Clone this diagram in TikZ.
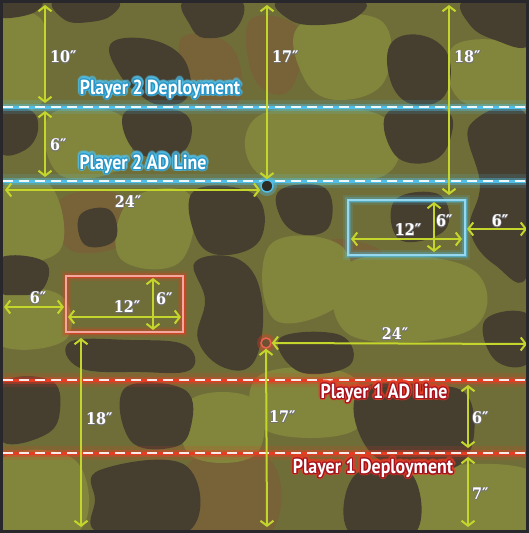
\documentclass[tikz,border=0pt]{standalone}
\usepackage{fontspec}
\usepackage{contour}
\usetikzlibrary{arrows.meta}
\newfontfamily\lblfont{PT Sans}[FakeStretch=0.88]
\newfontfamily\dimfont{DejaVu Serif Condensed}
\definecolor{basec}{RGB}{112,110,56}
\definecolor{greenc}{RGB}{130,134,60}
\definecolor{darkc}{RGB}{70,62,47}
\definecolor{brownc}{RGB}{120,98,56}
\definecolor{arrowc}{RGB}{196,214,44}
\definecolor{p2glow}{RGB}{80,190,230}
\definecolor{p2edge}{RGB}{40,150,200}
\definecolor{p1glow}{RGB}{230,60,35}
\definecolor{p1edge}{RGB}{165,20,30}
\definecolor{framec}{RGB}{40,40,44}
\tikzset{
  dimarr/.style={draw=arrowc, line width=2pt,
    {Straight Barb[length=5pt,width=13pt]}-{Straight Barb[length=5pt,width=13pt]}},
  dimlbl/.style={font=\dimfont\bfseries\fontsize{16}{16}\selectfont, text=white, inner sep=0pt},
  plbl/.style={font=\lblfont\bfseries\fontsize{20.3}{20}\selectfont, text=white, inner sep=0pt},
  blob/.style={smooth cycle, tension=0.7},
}
\newcommand{\dimtxt}[1]{\contourlength{0.5pt}\contour{black!55}{#1}}
\newcommand{\camo}[2]{\fill[#1] plot[blob] coordinates {#2};}
\begin{document}
\begin{tikzpicture}[x=1pt,y=-1pt]
\useasboundingbox (0,0) rectangle (529,533);
% ---------- terrain ----------
\fill[basec] (0,0) rectangle (529,533);
\begin{scope}
\clip (0,0) rectangle (529,533);
\camo{brownc}{(180,40)(230,45)(240,100)(200,105)}
\camo{brownc}{(250,20)(300,30)(290,90)(255,80)}
\camo{brownc}{(190,462)(270,460)(270,533)(190,533)}
\camo{brownc}{(330,240)(380,250)(370,275)(335,270)}
\camo{brownc}{(60,200)(120,195)(130,240)(70,250)}
\camo{greenc}{(0,20)(40,18)(45,60)(40,105)(0,105)}
\camo{greenc}{(300,25)(380,20)(385,80)(340,100)(305,80)}
\camo{greenc}{(455,45)(529,50)(529,105)(460,100)}
\camo{greenc}{(50,115)(120,115)(125,165)(60,175)}
\camo{greenc}{(260,115)(380,115)(385,175)(265,178)}
\camo{greenc}{(0,295)(60,295)(65,340)(0,345)}
\camo{greenc}{(260,375)(350,375)(355,430)(265,430)}
\camo{greenc}{(0,460)(75,460)(80,530)(0,530)}
\camo{greenc}{(410,475)(529,470)(529,530)(415,530)}
\camo{greenc}{(190,400)(255,400)(255,455)(190,455)}
\camo{greenc}{(350,262)(470,268)(470,330)(350,335)}
\camo{greenc}{(130,200)(190,195)(180,262)(120,258)}
\camo{greenc}{(0,190)(50,185)(60,250)(0,255)}
\camo{greenc}{(270,245)(340,245)(345,300)(275,320)}
\camo{darkc}{(0,0)(40,0)(35,12)(10,18)(0,15)}
\camo{darkc}{(55,0)(115,0)(112,15)(90,22)(65,20)}
\camo{darkc}{(110,45)(140,38)(175,50)(190,75)(185,100)(160,105)(140,95)(120,75)}
\camo{darkc}{(185,0)(240,0)(235,30)(205,38)(190,25)}
\camo{darkc}{(125,112)(165,108)(190,120)(185,150)(155,158)(130,145)}
\camo{darkc}{(0,112)(30,110)(38,130)(25,150)(0,152)}
\camo{darkc}{(280,0)(360,0)(355,18)(320,25)(290,20)}
\camo{darkc}{(390,45)(420,35)(448,55)(445,95)(415,105)(392,85)}
\camo{darkc}{(465,0)(529,0)(529,45)(495,40)(470,25)}
\camo{darkc}{(388,112)(445,110)(450,140)(430,162)(395,155)}
\camo{darkc}{(470,125)(529,120)(529,270)(495,265)(470,230)(480,185)}
\camo{darkc}{(280,190)(325,188)(330,225)(305,235)(282,220)}
\camo{darkc}{(0,258)(45,262)(42,290)(15,295)(0,290)}
\camo{darkc}{(70,342)(130,340)(185,345)(190,370)(140,372)(80,368)}
\camo{darkc}{(195,262)(240,260)(262,300)(255,360)(225,368)(198,340)(205,300)}
\camo{darkc}{(0,385)(50,380)(60,410)(45,435)(0,440)}
\camo{darkc}{(125,388)(185,390)(190,430)(170,448)(130,440)}
\camo{darkc}{(100,470)(185,465)(190,530)(100,533)(95,500)}
\camo{darkc}{(280,338)(340,335)(350,365)(300,372)}
\camo{darkc}{(360,390)(430,385)(470,400)(465,460)(410,470)(365,445)}
\camo{darkc}{(485,320)(529,315)(529,362)(495,360)}
\camo{darkc}{(355,475)(410,472)(415,533)(350,533)}
\camo{darkc}{(195,190)(255,195)(260,240)(220,255)(195,235)}
\camo{darkc}{(80,215)(110,210)(115,240)(85,245)}
\camo{darkc}{(395,200)(440,195)(445,230)(400,240)}
\end{scope}
% ---------- glowing lines ----------
\coordinate (p2depL) at (3,107);  \coordinate (p2depR) at (526,107);
\coordinate (p2adL) at (3,181);   \coordinate (p2adR) at (526,181);
\coordinate (p1adL) at (3,380);   \coordinate (p1adR) at (526,380);
\coordinate (p1depL) at (3,453);  \coordinate (p1depR) at (526,453);
\foreach \a/\b/\c in {p2depL/p2depR/p2glow, p2adL/p2adR/p2glow, p1adL/p1adR/p1glow, p1depL/p1depR/p1glow}{
  \draw[\c, line width=14pt, opacity=0.15] (\a) -- (\b);
  \draw[\c, line width=7pt, opacity=0.4] (\a) -- (\b);
  \draw[\c, line width=3pt] (\a) -- (\b);
  \draw[white!90!\c, line width=2pt, dash pattern=on 10pt off 6pt] (\a) -- (\b);
}
% ---------- boxes ----------
\foreach \w/\o in {10/0.15, 6/0.3, 3/0.6}{
  \draw[p2glow, line width=\w pt, opacity=\o] (348,200) rectangle (465,255);
  \draw[p1glow, line width=\w pt, opacity=\o] (66,276) rectangle (183,332);
}
\draw[white!40!p2glow, line width=1.2pt] (348,200) rectangle (465,255);
\draw[white!55!p1glow, line width=1.2pt] (66,276) rectangle (183,332);
% ---------- markers ----------
\fill[p2glow, opacity=0.35] (267,186) circle (10);
\node[circle, fill={rgb,255:red,45;green,45;blue,38}, draw=p2glow, line width=1.5pt, minimum size=12pt, inner sep=0pt] (m2) at (267,186) {};
\fill[p1glow, opacity=0.35] (266,343) circle (9);
\node[circle, fill={rgb,255:red,110;green,80;blue,50}, draw=p1glow!80!white, line width=1.5pt, minimum size=10pt, inner sep=0pt] (m1) at (266,343) {};
% ---------- dimension arrows ----------
\coordinate (a10t) at (45,5);    \coordinate (a10b) at (45,103);
\coordinate (a6t) at (45,111);   \coordinate (a6b) at (45,177);
\coordinate (a24l) at (5,190);
\coordinate (a17t) at (267,5);
\coordinate (a18t) at (449,5);   \coordinate (a18b) at (449,195);
\coordinate (b12l) at (351,239); \coordinate (b12r) at (462,239);
\coordinate (b6t) at (434,202);  \coordinate (b6b) at (434,252);
\coordinate (b6l) at (467,229);  \coordinate (b6r) at (527,229);
\coordinate (r6l) at (4,307);    \coordinate (r6r) at (64,307);
\coordinate (r12l) at (68,317);  \coordinate (r12r) at (181,317);
\coordinate (r6t) at (153,278);  \coordinate (r6b) at (153,330);
\coordinate (r18t) at (81,338);  \coordinate (r18b) at (81,527);
\coordinate (c24r) at (527,344);
\coordinate (c17b) at (267,527);
\coordinate (d6t) at (468,385);  \coordinate (d6b) at (468,448);
\coordinate (d7t) at (468,457);  \coordinate (d7b) at (468,527);
\draw[dimarr] (a10t) -- (a10b);
\draw[dimarr] (a6t) -- (a6b);
\draw[dimarr] (a24l) -- (m2.west|-a24l);
\draw[dimarr] (a17t) -- (m2.north);
\draw[dimarr] (a18t) -- (a18b);
\draw[dimarr] (b12l) -- (b12r);
\draw[dimarr] (b6t) -- (b6b);
\draw[dimarr] (b6l) -- (b6r);
\draw[dimarr] (r6l) -- (r6r);
\draw[dimarr] (r12l) -- (r12r);
\draw[dimarr] (r6t) -- (r6b);
\draw[dimarr] (r18t) -- (r18b);
\draw[dimarr] (m1.east) -- (c24r);
\draw[dimarr] (m1.south) -- (c17b);
\draw[dimarr] (d6t) -- (d6b);
\draw[dimarr] (d7t) -- (d7b);
% ---------- dimension labels ----------
\node[dimlbl, anchor=west] (l10) at (50,57) {\dimtxt{10″}};
\node[dimlbl, anchor=west] (l6a) at (50,145) {\dimtxt{6″}};
\node[dimlbl] (l24a) at (128,202) {\dimtxt{24″}};
\node[dimlbl, anchor=west] (l17a) at (272,57) {\dimtxt{17″}};
\node[dimlbl, anchor=west] (l18a) at (454,57) {\dimtxt{18″}};
\node[dimlbl] (lb12) at (408,230) {\dimtxt{12″}};
\node[dimlbl, anchor=west] (lb6) at (436,221) {\dimtxt{6″}};
\node[dimlbl] (lb6r) at (500,221) {\dimtxt{6″}};
\node[dimlbl] (lr6) at (38,298) {\dimtxt{6″}};
\node[dimlbl] (lr12) at (127,307) {\dimtxt{12″}};
\node[dimlbl, anchor=west] (lr6v) at (156,299) {\dimtxt{6″}};
\node[dimlbl, anchor=west] (lr18) at (86,419) {\dimtxt{18″}};
\node[dimlbl] (l24b) at (395,334) {\dimtxt{24″}};
\node[dimlbl, anchor=west] (l17b) at (269,417) {\dimtxt{17″}};
\node[dimlbl, anchor=west] (ld6) at (472,418) {\dimtxt{6″}};
\node[dimlbl, anchor=west] (ld7) at (472,494) {\dimtxt{7″}};
% ---------- player labels ----------
\node[plbl, text opacity=0.45] (g2dep) at (160,90) {\contourlength{3pt}\contour{p2glow}{Player 2 Deployment}};
\node[plbl] (t2dep) at (160,90) {\contourlength{1.2pt}\contour{p2edge}{Player 2 Deployment}};
\node[plbl, text opacity=0.45] (g2ad) at (143,165) {\contourlength{3pt}\contour{p2glow}{Player 2 AD Line}};
\node[plbl] (t2ad) at (143,165) {\contourlength{1.2pt}\contour{p2edge}{Player 2 AD Line}};
\node[plbl, text opacity=0.45] (g1ad) at (384,394) {\contourlength{3pt}\contour{p1glow}{Player 1 AD Line}};
\node[plbl] (t1ad) at (384,394) {\contourlength{1.2pt}\contour{p1edge}{Player 1 AD Line}};
\node[plbl, text opacity=0.45] (g1dep) at (373,469) {\contourlength{3pt}\contour{p1glow}{Player 1 Deployment}};
\node[plbl] (t1dep) at (373,469) {\contourlength{1.2pt}\contour{p1edge}{Player 1 Deployment}};
% ---------- frame ----------
\draw[framec, line width=3pt] (1.5,1.5) rectangle (527.5,531.5);
\end{tikzpicture}
\end{document}
